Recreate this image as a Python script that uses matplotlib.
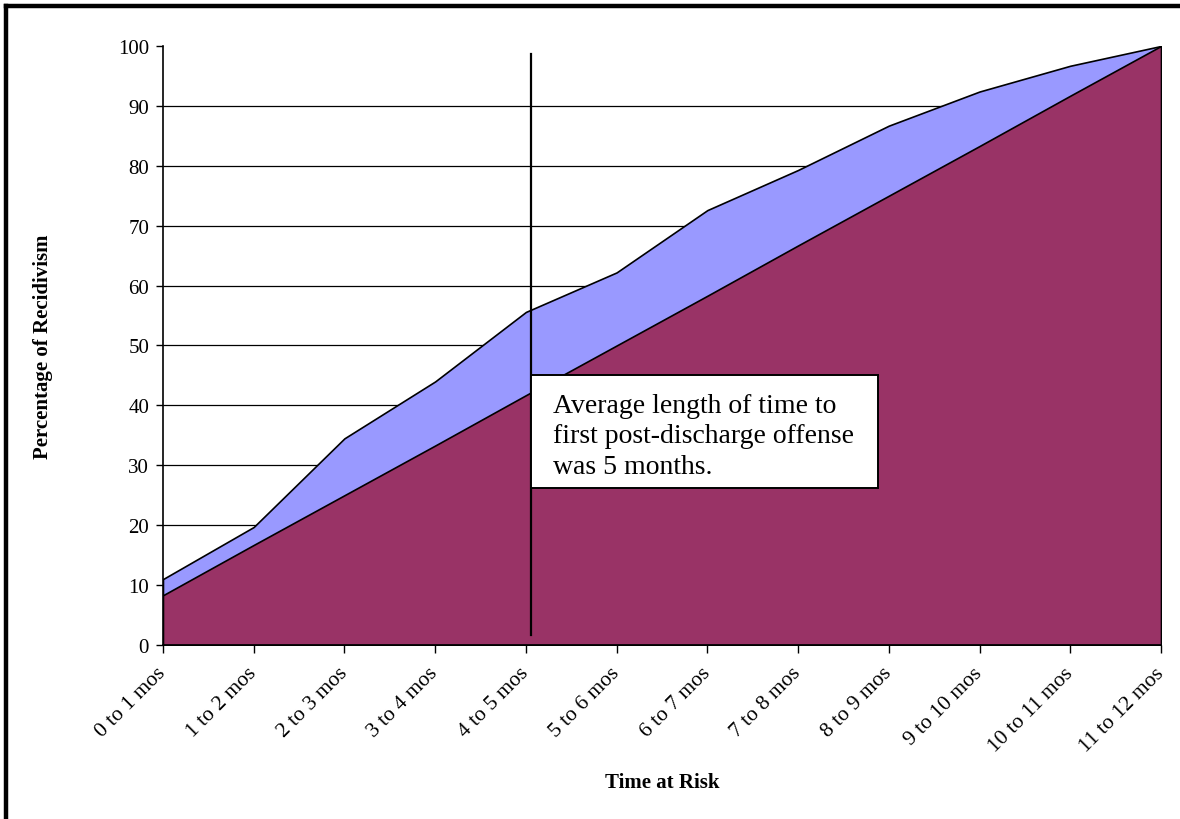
import matplotlib
matplotlib.use("Agg")
import matplotlib.pyplot as plt
from matplotlib.lines import Line2D
from matplotlib.patches import Rectangle

plt.rcParams['font.family'] = ['Liberation Serif', 'DejaVu Serif']

periods = ["0 to 1 mos", "1 to 2 mos", "2 to 3 mos", "3 to 4 mos", "4 to 5 mos",
           "5 to 6 mos", "6 to 7 mos", "7 to 8 mos", "8 to 9 mos", "9 to 10 mos",
           "10 to 11 mos", "11 to 12 mos"]
# cumulative recidivism (%) and the even-spread reference
recid = [11.0, 19.7, 34.5, 44.0, 55.6, 62.2, 72.6, 79.3, 86.7, 92.4, 96.7, 100.0]
even = [8.3, 16.7, 25.0, 33.3, 41.7, 50.0, 58.3, 66.7, 75.0, 83.3, 91.7, 100.0]
yticks = [0, 10, 20, 30, 40, 50, 60, 70, 80, 90, 100]
avg_months = 5

fig = plt.figure(figsize=(11.8, 8.2), dpi=100)
ax = fig.add_axes([0.1381, 0.2122, 0.8458, 0.7305])

x = list(range(len(periods)))

ax.hlines(yticks[1:-1], 0, len(periods) - 1, colors='black', linewidth=0.9, zorder=1)
ax.fill_between(x, 0, recid, facecolor='#9999FF', edgecolor='black', linewidth=1.2, zorder=2)
ax.fill_between(x, 0, even, facecolor='#993366', edgecolor='black', linewidth=1.2, zorder=3)

# marker line for the average time to first offense
xm = (avg_months - 1) + 0.056
ax.plot([xm, xm], [1.7, 98.7], color='black', linewidth=1.6, zorder=5)

# note box
ax.add_patch(Rectangle((xm, 26.2), 7.88 - xm, 18.9, facecolor='white',
                       edgecolor='black', linewidth=1.4, zorder=6, clip_on=False))
ax.text(4.30, 34.9, "Average length of time to\nfirst post-discharge offense\nwas 5 months.",
        fontsize=20, va='center', ha='left', linespacing=1.28, zorder=7)

ax.set_xlim(0, len(periods) - 1)
ax.set_ylim(0, 100)
ax.set_yticks(yticks)
ax.set_xticks(x)
ax.set_xticklabels(periods, rotation=45, ha='right', va='center', rotation_mode='anchor')
ax.tick_params(axis='y', labelsize=15, length=5, width=1, direction='out', pad=5)
ax.tick_params(axis='x', labelsize=15.5, length=6, width=1, direction='out', pad=12)

for side in ['top', 'right']:
    ax.spines[side].set_visible(False)
for side in ['left', 'bottom']:
    ax.spines[side].set_linewidth(1.2)
    ax.spines[side].set_zorder(8)

fig.text(0.0365, 0.577, "Percentage of Recidivism", rotation=90, ha='center', va='center',
         fontsize=15, fontweight='bold')
fig.text(0.561, 0.045, "Time at Risk", ha='center', va='center',
         fontsize=15, fontweight='bold')

# frame edges along the top and left
fig.add_artist(Line2D([0.0051, 0.0051], [0, 0.9915], transform=fig.transFigure,
                      color='black', linewidth=3.2))
fig.add_artist(Line2D([0.0051, 1.0], [0.9915, 0.9915], transform=fig.transFigure,
                      color='black', linewidth=3.2))

fig.savefig("out.png", dpi=100)
